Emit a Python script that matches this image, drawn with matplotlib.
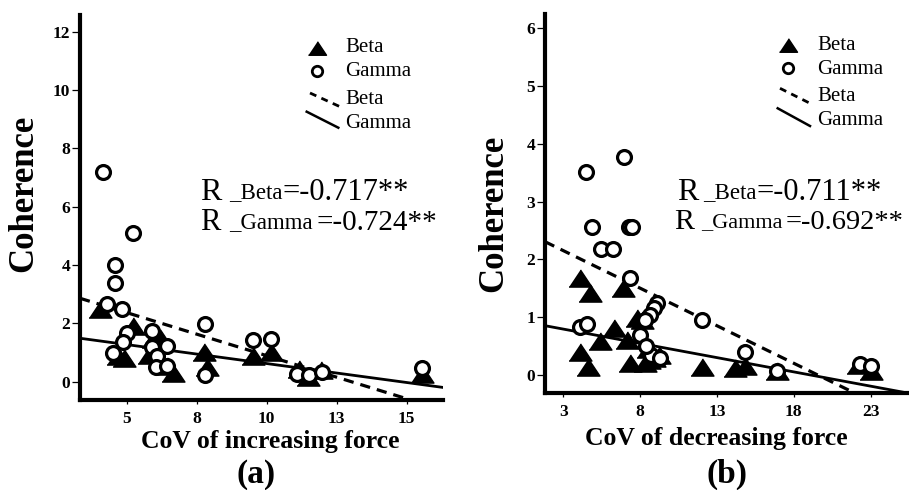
import numpy as np
import matplotlib
matplotlib.use("Agg")
import matplotlib.pyplot as plt
from matplotlib.lines import Line2D

plt.rcParams["font.family"] = ["Liberation Serif", "DejaVu Serif"]

# ---------------- data ----------------
# (a) coherence vs CoV of increasing force
inc_beta_x = [4.05, 4.70, 4.90, 5.24, 5.80, 5.95, 6.20, 6.45, 6.65, 7.75, 7.85,
              9.52, 10.15, 11.15, 11.49, 11.93, 15.55]
inc_beta_y = [2.48, 0.88, 0.80, 1.92, 0.92, 1.45, 1.50, 0.55, 0.30, 1.00, 0.50,
              0.88, 1.00, 0.45, 0.17, 0.40, 0.27]
inc_gamma_x = [4.14, 5.24, 4.58, 4.58, 4.30, 4.82, 5.02, 4.86, 4.52, 5.89, 5.89,
               6.45, 6.08, 6.04, 6.43, 7.78, 7.80, 9.52, 10.14, 11.10, 11.50,
               11.96, 15.55]
inc_gamma_y = [7.20, 5.09, 4.00, 3.37, 2.65, 2.48, 1.68, 1.35, 0.97, 1.73, 1.18,
               1.21, 0.87, 0.51, 0.54, 1.97, 0.23, 1.43, 1.47, 0.25, 0.22,
               0.34, 0.46]
inc_beta_fit = [3.84, -0.295]     # intercept, slope
inc_gamma_fit = [1.92, -0.130]
inc_xticks = [5, 7.5, 10, 12.5, 15]
inc_xticklabels = ["5", "8", "10", "13", "15"]
inc_yticks = [0, 2, 4, 6, 8, 10, 12]
inc_r = ["-0.717**", "-0.724**"]

# (b) coherence vs CoV of decreasing force
dec_beta_x = [4.10, 4.75, 6.90, 4.10, 4.60, 5.35, 6.30, 7.15, 7.35, 7.80, 8.10,
              8.30, 8.60, 8.90, 9.20, 8.50, 12.00, 14.20, 14.85, 16.90, 22.20,
              23.00]
dec_beta_y = [1.67, 1.41, 1.50, 0.40, 0.14, 0.58, 0.81, 0.61, 0.20, 0.98, 0.95,
              0.20, 0.26, 0.30, 0.35, 0.45, 0.14, 0.12, 0.15, 0.06, 0.17, 0.06]
dec_gamma_x = [4.45, 6.95, 4.85, 7.30, 7.45, 5.45, 6.25, 7.35, 9.10, 8.90, 8.65,
               4.10, 4.55, 8.00, 8.30, 8.70, 9.30, 12.00, 14.80, 22.30, 23.00,
               16.90, 8.40]
dec_gamma_y = [3.52, 3.77, 2.56, 2.56, 2.56, 2.18, 2.18, 1.67, 1.25, 1.15, 1.04,
               0.83, 0.88, 0.69, 0.95, 0.35, 0.30, 0.95, 0.40, 0.19, 0.16,
               0.06, 0.50]
dec_beta_fit = [2.54, -0.130]
dec_gamma_fit = [0.94, -0.0494]
dec_xticks = [3, 8, 13, 18, 23]
dec_xticklabels = ["3", "8", "13", "18", "23"]
dec_yticks = [0, 1, 2, 3, 4, 5, 6]
dec_r = ["-0.711**", "-0.692**"]

# ---------------- figure ----------------
W, H = 909, 490
fig = plt.figure(figsize=(W / 100, H / 100), dpi=100)


def fx(px):
    return px / W


def fy(py):
    return 1 - py / H


TRI = [(-1, -0.75), (1, -0.75), (0, 0.75)]


def panel(rect, bx, by, gx, gy, bfit, gfit, xlim, ylim, xticks, xlabels, yticks):
    ax = fig.add_axes(rect)
    ax.set_xlim(*xlim)
    ax.set_ylim(*ylim)
    for s in ("top", "right"):
        ax.spines[s].set_visible(False)
    for s in ("left", "bottom"):
        ax.spines[s].set_linewidth(3.0)
    ax.set_xticks(xticks)
    ax.set_xticklabels(xlabels)
    ax.set_yticks(yticks)
    ax.tick_params(axis="y", length=6, width=0.9, direction="out", pad=1)
    ax.tick_params(axis="x", length=3, width=0.9, direction="out", pad=5)
    for lab in ax.get_xticklabels() + ax.get_yticklabels():
        lab.set_fontsize(12.5)
        lab.set_fontweight("bold")

    xs = np.array(xlim)
    ax.plot(xs, bfit[0] + bfit[1] * xs, color="black", lw=2.3,
            linestyle=(0, (3.2, 2.2)), zorder=2)
    ax.plot(xs, gfit[0] + gfit[1] * xs, color="black", lw=2.0, zorder=2)

    ax.plot(bx, by, linestyle="none", marker=TRI, markersize=16.5,
            color="black", zorder=3)
    ax.plot(gx, gy, linestyle="none", marker="o", markersize=10,
            markerfacecolor="white", markeredgecolor="black",
            markeredgewidth=2.3, zorder=4)
    return ax


axA = panel([fx(80), fy(400), fx(443) - fx(80), fy(15) - fy(400)],
            inc_beta_x, inc_beta_y, inc_gamma_x, inc_gamma_y,
            inc_beta_fit, inc_gamma_fit, (3.33, 16.3), (-0.63, 12.57),
            inc_xticks, inc_xticklabels, inc_yticks)
axB = panel([fx(545), fy(393.3), fx(909) - fx(545), fy(14) - fy(393.3)],
            dec_beta_x, dec_beta_y, dec_gamma_x, dec_gamma_y,
            dec_beta_fit, dec_gamma_fit, (1.8, 25.5), (-0.32, 6.25),
            dec_xticks, dec_xticklabels, dec_yticks)

# axis titles
bold = dict(fontweight="bold", color="black")
fig.text(fx(24), fy(193), "Coherence", rotation=90, ha="center", va="center",
         fontsize=25, **bold)
fig.text(fx(494), fy(213), "Coherence", rotation=90, ha="center", va="center",
         fontsize=25, **bold)
fig.text(fx(270), fy(441), "CoV of increasing force", ha="center", va="center",
         fontsize=18.5, **bold)
fig.text(fx(716), fy(438), "CoV of decreasing force", ha="center", va="center",
         fontsize=18.5, **bold)
fig.text(fx(256), fy(474), "(a)", ha="center", va="center", fontsize=24, **bold)
fig.text(fx(727), fy(474), "(b)", ha="center", va="center", fontsize=24, **bold)


# legends
def legend(x0, rows):
    (ty, cy, dash_seg, solid_seg, tx, text_y) = rows
    fig.add_artist(Line2D([fx(x0)], [fy(ty)], marker=TRI, markersize=13,
                          color="black", linestyle="none"))
    fig.add_artist(Line2D([fx(x0)], [fy(cy)], marker="o", markersize=7.5,
                          markerfacecolor="white", markeredgecolor="black",
                          markeredgewidth=2.0, linestyle="none"))
    fig.add_artist(Line2D([fx(dash_seg[0]), fx(dash_seg[2])],
                          [fy(dash_seg[1]), fy(dash_seg[3])], color="black",
                          lw=2.0, linestyle=(0, (2.5, 2.0))))
    fig.add_artist(Line2D([fx(solid_seg[0]), fx(solid_seg[2])],
                          [fy(solid_seg[1]), fy(solid_seg[3])], color="black",
                          lw=1.8))
    for label, yy in zip(["Beta", "Gamma", "Beta", "Gamma"], text_y):
        fig.text(fx(tx), fy(yy), label, ha="left", va="center", fontsize=15)


legend(316.7, (48, 71, (310, 93, 340, 106.7), (306.7, 111.7, 338.3, 127.7),
               345, (48, 71, 99, 124)))
legend(788.3, (45, 68.3, (780, 88.3, 810, 103.3), (777.7, 108.3, 810, 126),
               817, (45, 69, 96.7, 120.7)))


# correlation annotations
def rtext(xr, xs, xe, base, sub, value, big=22, small=16.5):
    fig.text(fx(xr), fy(base), "R", ha="left", va="baseline", fontsize=big + 1)
    fig.text(fx(xs), fy(base - 2), sub, ha="left", va="baseline", fontsize=small)
    fig.text(fx(xe), fy(base), "=" + value, ha="left", va="baseline",
             fontsize=big)


rtext(200, 229, 282, 200, "_Beta", inc_r[0])
rtext(200, 229, 316, 230, "_Gamma", inc_r[1], big=21)
rtext(676.7, 703, 756.7, 200, "_Beta", dec_r[0])
rtext(674, 701, 786, 229, "_Gamma", dec_r[1], big=20.5, small=16)

fig.savefig("out.png", dpi=100, facecolor="white")
